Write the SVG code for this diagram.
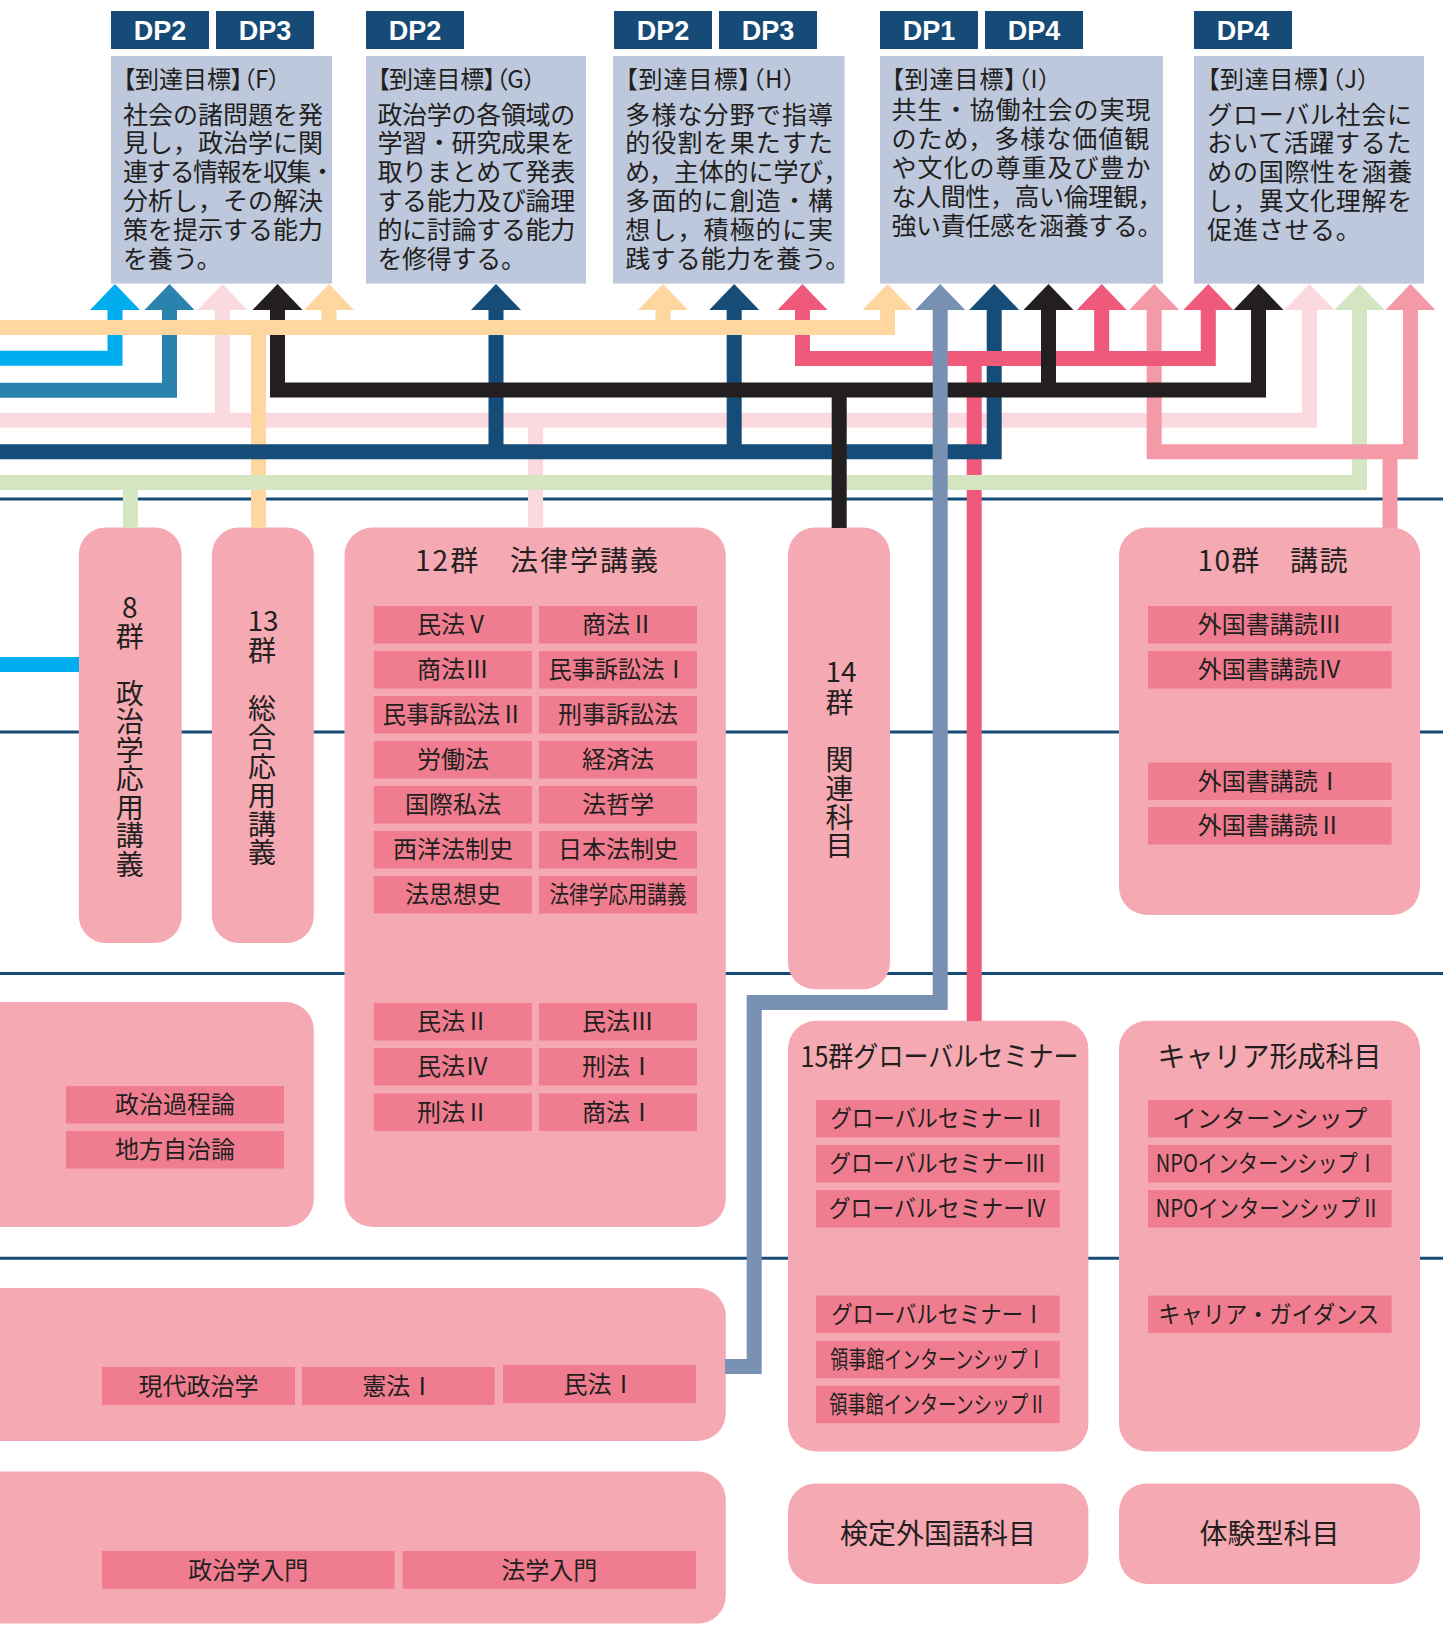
<svg xmlns="http://www.w3.org/2000/svg" width="1443" height="1646" viewBox="0 0 1443 1646">
<defs>
<style>
.sep{stroke:#164B78;stroke-width:3;fill:none}
.badge{fill:#164B78}
.bt{font-family:"Liberation Sans",Arial,sans-serif;font-weight:bold;font-size:27px;fill:#fff;text-anchor:middle}
.goal{fill:#BDC8DC}
.gt{font-family:"Noto Sans CJK JP","Noto Sans",sans-serif;font-size:25px;fill:#231F20}
.gh{font-feature-settings:"palt";font-size:24px}
.box{fill:#F5A9B3}
.item{fill:#F07D8F}
.it{font-family:"Noto Sans CJK JP","Noto Sans",sans-serif;font-size:24px;fill:#231F20;text-anchor:middle}
.ttl{font-family:"Noto Sans CJK JP","Noto Sans",sans-serif;font-size:28px;fill:#231F20;text-anchor:middle}
.vt{font-family:"Noto Sans CJK JP","Noto Sans",sans-serif;font-size:28px;fill:#231F20;writing-mode:vertical-rl;text-orientation:upright}
.ln{fill:none;stroke-width:15;stroke-linejoin:miter;stroke-linecap:butt}
</style>
<polygon id="head" points="0,0 25,26 -25,26"/>
</defs>
<rect x="0" y="0" width="1443" height="1646" fill="#fff"/>

<g id="separators">
<line class="sep" x1="0" y1="499" x2="1443" y2="499"/>
<line class="sep" x1="0" y1="732" x2="1443" y2="732"/>
<line class="sep" x1="0" y1="973.5" x2="1443" y2="973.5"/>
<line class="sep" x1="0" y1="1258.2" x2="1443" y2="1258.2"/>
</g>

<g id="goal-F">
<rect class="badge" x="111" y="11" width="98" height="38"/><text class="bt" x="160" y="40">DP2</text>
<rect class="badge" x="216" y="11" width="98" height="38"/><text class="bt" x="265" y="40">DP3</text>
<rect class="goal" x="111" y="56" width="221" height="227.6"/>
<text class="gt gh" x="123" y="88.2">【到達目標】（F）</text>
<text class="gt" x="123" y="123.5">社会の諸問題を発</text>
<text class="gt" x="123" y="152.3">見し，政治学に関</text>
<text class="gt" x="123" y="181.1" textLength="212" lengthAdjust="spacing">連する情報を収集・</text>
<text class="gt" x="123" y="209.9">分析し，その解決</text>
<text class="gt" x="123" y="238.7">策を提示する能力</text>
<text class="gt" x="123" y="267.5">を養う。</text>
</g>

<g id="goal-G">
<rect class="badge" x="366" y="11" width="98" height="38"/><text class="bt" x="415" y="40">DP2</text>
<rect class="goal" x="366" y="56" width="220" height="227.6"/>
<g letter-spacing="-0.3">
<text class="gt gh" x="377.4" y="88.2">【到達目標】（G）</text>
<text class="gt" x="377.4" y="123.5">政治学の各領域の</text>
<text class="gt" x="377.4" y="152.3">学習・研究成果を</text>
<text class="gt" x="377.4" y="181.1">取りまとめて発表</text>
<text class="gt" x="377.4" y="209.9">する能力及び論理</text>
<text class="gt" x="377.4" y="238.7">的に討論する能力</text>
<text class="gt" x="377.4" y="267.5">を修得する。</text>
</g>
</g>

<g id="goal-H">
<rect class="badge" x="614" y="11" width="98" height="38"/><text class="bt" x="663" y="40">DP2</text>
<rect class="badge" x="719" y="11" width="98" height="38"/><text class="bt" x="768" y="40">DP3</text>
<rect class="goal" x="613" y="56" width="231.5" height="227.6"/>
<g letter-spacing="1.1">
<text class="gt gh" x="625.3" y="88.2">【到達目標】（H）</text>
<text class="gt" x="625.3" y="123.5">多様な分野で指導</text>
<text class="gt" x="625.3" y="152.3">的役割を果たすた</text>
<text class="gt" x="625.3" y="181.1" textLength="224" lengthAdjust="spacing">め，主体的に学び，</text>
<text class="gt" x="625.3" y="209.9">多面的に創造・構</text>
<text class="gt" x="625.3" y="238.7">想し，積極的に実</text>
<text class="gt" x="625.3" y="267.5" textLength="226" lengthAdjust="spacing">践する能力を養う。</text>
</g>
</g>

<g id="goal-I">
<rect class="badge" x="880" y="11" width="98" height="38"/><text class="bt" x="929" y="40">DP1</text>
<rect class="badge" x="985" y="11" width="98" height="38"/><text class="bt" x="1034" y="40">DP4</text>
<rect class="goal" x="880" y="56" width="283" height="227.6"/>
<g letter-spacing="1">
<text class="gt gh" x="891.5" y="88.2">【到達目標】（I）</text>
<text class="gt" x="891.5" y="118.5">共生・協働社会の実現</text>
<text class="gt" x="891.5" y="147.5">のため，多様な価値観</text>
<text class="gt" x="891.5" y="176.5">や文化の尊重及び豊か</text>
<text class="gt" x="891.5" y="205.5" textLength="272" lengthAdjust="spacing">な人間性，高い倫理観，</text>
<text class="gt" x="891.5" y="234.5" textLength="272" lengthAdjust="spacing">強い責任感を涵養する。</text>
</g>
</g>

<g id="goal-J">
<rect class="badge" x="1194" y="11" width="98" height="38"/><text class="bt" x="1243" y="40">DP4</text>
<rect class="goal" x="1194" y="56" width="230" height="227.6"/>
<g letter-spacing="0.7">
<text class="gt gh" x="1207.3" y="88.2">【到達目標】（J）</text>
<text class="gt" x="1207.3" y="123.5">グローバル社会に</text>
<text class="gt" x="1207.3" y="152.3">おいて活躍するた</text>
<text class="gt" x="1207.3" y="181.1">めの国際性を涵養</text>
<text class="gt" x="1207.3" y="209.9">し，異文化理解を</text>
<text class="gt" x="1207.3" y="238.7">促進させる。</text>
</g>
</g>

<g id="group8">
<rect class="box" x="78.8" y="527.5" width="102.9" height="415.5" rx="27"/>
<text class="vt" x="129.8" y="593.8" letter-spacing="0.5">8群　政治学応用講義</text>
</g>

<g id="group13">
<rect class="box" x="211.9" y="527.5" width="101.9" height="415.5" rx="27"/>
<text class="ttl" x="263" y="630.5">13</text>
<text class="vt" x="262" y="636.5" letter-spacing="0.9">群　総合応用講義</text>
</g>

<g id="group12">
<rect class="box" x="344.5" y="527.5" width="381.3" height="699.5" rx="28"/>
<text class="ttl" x="536.6" y="570.8" textLength="243" lengthAdjust="spacing">12群　法律学講義</text>
<rect class="item" x="373.8" y="606" width="158.1" height="37.5"/><text class="it" x="452.9" y="633.4">民法Ⅴ</text>
<rect class="item" x="538.9" y="606" width="158.1" height="37.5"/><text class="it" x="618" y="633.4">商法Ⅱ</text>
<rect class="item" x="373.8" y="651" width="158.1" height="37.5"/><text class="it" x="452.9" y="678.4">商法Ⅲ</text>
<rect class="item" x="538.9" y="651" width="158.1" height="37.5"/><text class="it" x="618" y="678.4" textLength="139" lengthAdjust="spacingAndGlyphs">民事訴訟法Ⅰ</text>
<rect class="item" x="373.8" y="696" width="158.1" height="37.5"/><text class="it" x="452.9" y="723.4" textLength="141" lengthAdjust="spacingAndGlyphs">民事訴訟法Ⅱ</text>
<rect class="item" x="538.9" y="696" width="158.1" height="37.5"/><text class="it" x="618" y="723.4">刑事訴訟法</text>
<rect class="item" x="373.8" y="741" width="158.1" height="37.5"/><text class="it" x="452.9" y="768.4">労働法</text>
<rect class="item" x="538.9" y="741" width="158.1" height="37.5"/><text class="it" x="618" y="768.4">経済法</text>
<rect class="item" x="373.8" y="786" width="158.1" height="37.5"/><text class="it" x="452.9" y="813.4">国際私法</text>
<rect class="item" x="538.9" y="786" width="158.1" height="37.5"/><text class="it" x="618" y="813.4">法哲学</text>
<rect class="item" x="373.8" y="831" width="158.1" height="37.5"/><text class="it" x="452.9" y="858.4">西洋法制史</text>
<rect class="item" x="538.9" y="831" width="158.1" height="37.5"/><text class="it" x="618" y="858.4">日本法制史</text>
<rect class="item" x="373.8" y="876" width="158.1" height="37.5"/><text class="it" x="452.9" y="903.4">法思想史</text>
<rect class="item" x="538.9" y="876" width="158.1" height="37.5"/><text class="it" x="618" y="903.4" textLength="137" lengthAdjust="spacingAndGlyphs">法律学応用講義</text>
<rect class="item" x="373.8" y="1003" width="158.1" height="37.5"/><text class="it" x="452.9" y="1030.4">民法Ⅱ</text>
<rect class="item" x="538.9" y="1003" width="158.1" height="37.5"/><text class="it" x="618" y="1030.4">民法Ⅲ</text>
<rect class="item" x="373.8" y="1048" width="158.1" height="37.5"/><text class="it" x="452.9" y="1075.4">民法Ⅳ</text>
<rect class="item" x="538.9" y="1048" width="158.1" height="37.5"/><text class="it" x="618" y="1075.4">刑法Ⅰ</text>
<rect class="item" x="373.8" y="1093.4" width="158.1" height="37.5"/><text class="it" x="452.9" y="1120.8">刑法Ⅱ</text>
<rect class="item" x="538.9" y="1093.4" width="158.1" height="37.5"/><text class="it" x="618" y="1120.8">商法Ⅰ</text>
</g>

<g id="group14">
<rect class="box" x="788" y="527.5" width="102" height="461.8" rx="27"/>
<text class="ttl" x="841" y="682">14</text>
<text class="vt" x="839.5" y="688.3" letter-spacing="0.7">群　関連科目</text>
</g>

<g id="group10">
<rect class="box" x="1119" y="527.5" width="301" height="387.5" rx="28"/>
<text class="ttl" x="1272.5" y="570.8" textLength="150" lengthAdjust="spacing">10群　講読</text>
<rect class="item" x="1148" y="606" width="243.6" height="37.5"/><text class="it" x="1269.8" y="633.4">外国書講読Ⅲ</text>
<rect class="item" x="1148" y="651" width="243.6" height="37.5"/><text class="it" x="1269.8" y="678.4">外国書講読Ⅳ</text>
<rect class="item" x="1148" y="762.5" width="243.6" height="37.5"/><text class="it" x="1269.8" y="789.9">外国書講読Ⅰ</text>
<rect class="item" x="1148" y="807" width="243.6" height="37.5"/><text class="it" x="1269.8" y="834.4">外国書講読Ⅱ</text>
</g>

<g id="group-politics">
<rect class="box" x="-40" y="1002" width="353.8" height="225" rx="28"/>
<rect class="item" x="66" y="1086" width="218" height="37.5"/><text class="it" x="175" y="1113.4">政治過程論</text>
<rect class="item" x="66" y="1131" width="218" height="37.5"/><text class="it" x="175" y="1158.4">地方自治論</text>
</g>

<g id="group15">
<rect class="box" x="788" y="1020.8" width="300.4" height="430.7" rx="28"/>
<text class="ttl" x="939.5" y="1066.6" textLength="278" lengthAdjust="spacingAndGlyphs">15群グローバルセミナー</text>
<rect class="item" x="816" y="1100" width="243.7" height="37.5"/><text class="it" x="937.8" y="1127.4" textLength="215" lengthAdjust="spacingAndGlyphs">グローバルセミナーⅡ</text>
<rect class="item" x="816" y="1145" width="243.7" height="37.5"/><text class="it" x="937.8" y="1172.4" textLength="217" lengthAdjust="spacingAndGlyphs">グローバルセミナーⅢ</text>
<rect class="item" x="816" y="1190" width="243.7" height="37.5"/><text class="it" x="937.8" y="1217.4" textLength="218" lengthAdjust="spacingAndGlyphs">グローバルセミナーⅣ</text>
<rect class="item" x="816" y="1295.6" width="243.7" height="37.5"/><text class="it" x="937.8" y="1323" textLength="213" lengthAdjust="spacingAndGlyphs">グローバルセミナーⅠ</text>
<rect class="item" x="816" y="1340.7" width="243.7" height="37.5"/><text class="it" x="937.8" y="1368.1" textLength="215" lengthAdjust="spacingAndGlyphs">領事館インターンシップⅠ</text>
<rect class="item" x="816" y="1385.7" width="243.7" height="37.5"/><text class="it" x="937.8" y="1413.1" textLength="217" lengthAdjust="spacingAndGlyphs">領事館インターンシップⅡ</text>
</g>

<g id="group-career">
<rect class="box" x="1119" y="1020.8" width="301" height="430.7" rx="28"/>
<text class="ttl" x="1269.5" y="1066.6">キャリア形成科目</text>
<rect class="item" x="1148" y="1100" width="243.6" height="37.5"/><text class="it" x="1269.8" y="1127.4" textLength="195" lengthAdjust="spacingAndGlyphs">インターンシップ</text>
<rect class="item" x="1148" y="1145" width="243.6" height="37.5"/><text class="it" x="1266.7" y="1172.4" textLength="222" lengthAdjust="spacingAndGlyphs">NPOインターンシップⅠ</text>
<rect class="item" x="1148" y="1190" width="243.6" height="37.5"/><text class="it" x="1268" y="1217.4" textLength="225" lengthAdjust="spacingAndGlyphs">NPOインターンシップⅡ</text>
<rect class="item" x="1148" y="1295.6" width="243.6" height="37.5"/><text class="it" x="1268.7" y="1323" textLength="221" lengthAdjust="spacingAndGlyphs">キャリア・ガイダンス</text>
</g>

<g id="year2">
<rect class="box" x="-40" y="1288" width="765.8" height="153" rx="28"/>
<rect class="item" x="102" y="1367" width="193" height="38"/><text class="it" x="198.5" y="1394.6">現代政治学</text>
<rect class="item" x="302" y="1367" width="192.6" height="38"/><text class="it" x="398.3" y="1394.6">憲法Ⅰ</text>
<rect class="item" x="503" y="1365" width="193" height="38"/><text class="it" x="599.5" y="1392.6">民法Ⅰ</text>
</g>

<g id="year1">
<rect class="box" x="-40" y="1471.5" width="765.8" height="152.1" rx="28"/>
<rect class="item" x="102" y="1551" width="292.5" height="37.7"/><text class="it" x="248.3" y="1578.5">政治学入門</text>
<rect class="item" x="402.5" y="1551" width="293.5" height="37.7"/><text class="it" x="549.3" y="1578.5">法学入門</text>
</g>

<g id="kentei">
<rect class="box" x="788" y="1483.4" width="300.4" height="100.6" rx="28"/>
<text class="ttl" x="938" y="1544.4">検定外国語科目</text>
</g>

<g id="taiken">
<rect class="box" x="1119" y="1483.4" width="301" height="100.6" rx="28"/>
<text class="ttl" x="1269.5" y="1544.4">体験型科目</text>
</g>

<g id="connectors">
<path class="ln" stroke="#FBDADF" d="M0,420.2 H1309.5 V309 M222.5,309 V420.2 M535.6,420.2 V528"/>
<path class="ln" stroke="#FDD6A0" d="M258.5,327.5 V528"/>
<path class="ln" stroke="#00AEEF" d="M0,358.3 H115 V309 M0,664.6 H79"/>
<path class="ln" stroke="#2A83AC" d="M0,390.2 H169.5 V309"/>
<path class="ln" stroke="#EF5A7B" d="M974.2,358.5 V1021"/>
<path class="ln" stroke="#164C78" d="M0,451.7 H994.2 V309 M496,309 V451.7 M734.2,309 V451.7"/>
<path class="ln" stroke="#D3E6C1" d="M0,482.5 H1359.5 V309 M130.4,482.5 V528"/>
<path class="ln" stroke="#F49AA7" d="M1154.2,309 V451.7 H1410.5 V309 M1390,451.7 V528"/>
<path class="ln" stroke="#EF5A7B" d="M802.5,309 V358.5 H1208.3 V309 M1101.7,309 V358.5"/>
<path class="ln" stroke="#231F20" d="M277.5,309 V390 H1258.5 V309 M1048.5,309 V390 M839.2,390 V528"/>
<path class="ln" stroke="#FDD6A0" d="M0,327.5 H887.5 V309 M329,309 V327.5 M663,309 V327.5"/>
<path class="ln" stroke="#7891B3" d="M940.2,309 V1002.5 H754.2 V1366.5 H725"/>
<use href="#head" x="115" y="284" fill="#00AEEF"/>
<use href="#head" x="169.5" y="284" fill="#2A83AC"/>
<use href="#head" x="222.5" y="284" fill="#FBDADF"/>
<use href="#head" x="277.5" y="284" fill="#231F20"/>
<use href="#head" x="329" y="284" fill="#FDD6A0"/>
<use href="#head" x="496" y="284" fill="#164C78"/>
<use href="#head" x="663" y="284" fill="#FDD6A0"/>
<use href="#head" x="734.2" y="284" fill="#164C78"/>
<use href="#head" x="802.5" y="284" fill="#EF5A7B"/>
<use href="#head" x="887.5" y="284" fill="#FDD6A0"/>
<use href="#head" x="940.2" y="284" fill="#7891B3"/>
<use href="#head" x="994.2" y="284" fill="#164C78"/>
<use href="#head" x="1048.5" y="284" fill="#231F20"/>
<use href="#head" x="1101.7" y="284" fill="#EF5A7B"/>
<use href="#head" x="1154.2" y="284" fill="#F49AA7"/>
<use href="#head" x="1208.3" y="284" fill="#EF5A7B"/>
<use href="#head" x="1258.5" y="284" fill="#231F20"/>
<use href="#head" x="1309.5" y="284" fill="#FBDADF"/>
<use href="#head" x="1359.5" y="284" fill="#D3E6C1"/>
<use href="#head" x="1410.5" y="284" fill="#F49AA7"/>
</g>
</svg>
